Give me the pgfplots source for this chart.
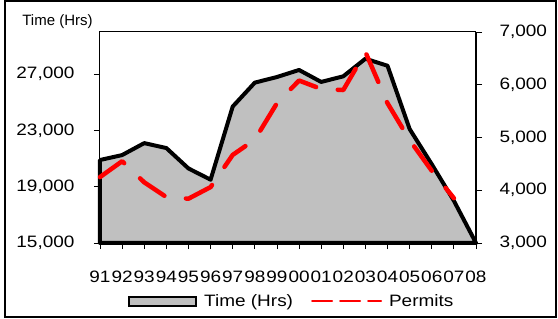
\documentclass[border=0pt]{standalone}
\usepackage{fontspec}
\setmainfont{Liberation Sans}[FakeStretch=1.15]
\newfontfamily\plainfont{Liberation Sans}
\usepackage{pgfplots}
\pgfplotsset{compat=1.18}
\definecolor{areagray}{HTML}{C0C0C0}
\definecolor{permred}{HTML}{FF0000}
\begin{document}
\begin{tikzpicture}
\path[use as bounding box] (0pt,0pt) rectangle (558pt,319pt);
\draw[line width=2pt] (5pt,2pt) rectangle (556pt,318pt);
\begin{axis}[
  at={(100pt,76pt)}, anchor=south west, scale only axis,
  width=376pt, height=211pt,
  xmin=0, xmax=17, ymin=15000, ymax=30000,
  xtick={0,...,17},
  xticklabels={91,92,93,94,95,96,97,98,99,00,01,02,03,04,05,06,07,08},
  ytick={15000,19000,23000,27000},
  scaled y ticks=false,
  xtick pos=lower, ytick pos=left,
  tick align=outside, major tick length=6pt,
  tick style={black, line width=0.8pt},
  axis line style={line width=1pt},
  /pgf/number format/assume math mode=true,
  /pgf/number format/1000 sep={,},
  ticklabel style={font=\fontsize{16.5}{18}\selectfont},
  xticklabel style={anchor=base, yshift=-34pt},
  yticklabel style={xshift=-16pt},
  clip=false,
]
\addplot[fill=areagray, draw=black, line width=4pt, line join=round] coordinates {
(0,15000) (0,20900) (1,21250) (2,22100) (3,21750) (4,20300) (5,19500)
(6,24700) (7,26400) (8,26800) (9,27300) (10,26450) (11,26850) (12,28100)
(13,27600) (14,23100) (15,20600) (16,18000) (17,15000) (0,15000)} -- cycle;
\node[font=\plainfont\fontsize{15}{18}\selectfont] at (rel axis cs:-0.113,1.047) {Time (Hrs)};
\end{axis}
\begin{axis}[
  at={(100pt,76pt)}, anchor=south west, scale only axis,
  width=376pt, height=211pt,
  xmin=0, xmax=17, ymin=3000, ymax=7000,
  axis y line*=right, axis x line=none,
  ytick={3000,4000,5000,6000,7000},
  scaled y ticks=false,
  tick align=outside, major tick length=6pt,
  tick style={black, line width=0.8pt},
  axis line style={line width=1.8pt},
  /pgf/number format/assume math mode=true,
  /pgf/number format/1000 sep={,},
  ticklabel style={font=\fontsize{16.5}{18}\selectfont},
  yticklabel style={xshift=14pt},
  clip=false,
  legend columns=2,
  legend cell align=left,
  legend style={at={(rel axis cs:0.0745,-0.275)}, anchor=west, draw=none, fill=none,
    inner sep=0pt, font=\fontsize{16.5}{18}\selectfont,
    /tikz/every odd column/.append style={column sep=5pt},
    /tikz/every even column/.append style={column sep=16pt}},
]
\addlegendimage{legend image code/.code={\draw[fill=areagray, draw=black, line width=2pt] (0pt,-4.5pt) rectangle (67pt,4.5pt);}}
\addlegendentry{Time (Hrs)}
\addplot[permred, line width=4.5pt, dash pattern=on 30pt off 22pt, line cap=round, line join=round,
  legend image code/.code={\draw[permred, line width=2pt, dash pattern=on 20pt off 8pt] (0pt,0pt) -- (69pt,0pt);}]
coordinates {
(0,4250) (1,4550) (2,4150) (3,3870) (4,3840) (5,4060) (6,4670) (7,4960)
(8,5650) (9,6080) (10,5920) (11,5900) (12,6620) (13,5650) (14,4950)
(15,4370) (16,3850)};
\addlegendentry{Permits}
\end{axis}
\end{tikzpicture}
\end{document}
